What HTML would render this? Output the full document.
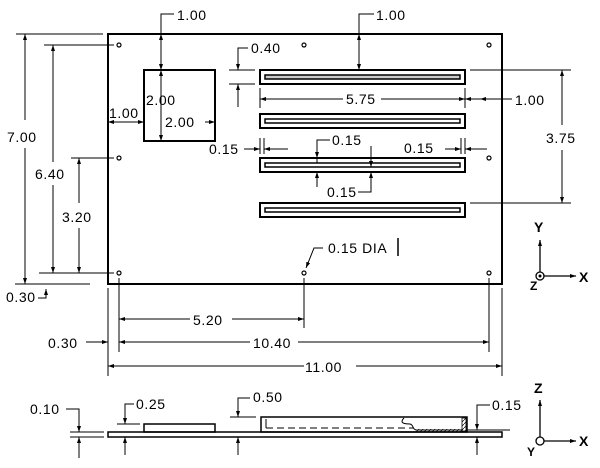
<!DOCTYPE html>
<html><head><style>
html,body{margin:0;padding:0;background:#fff}
svg{display:block}
text{font-family:"Liberation Sans",Arial,sans-serif;font-size:14px;letter-spacing:0.6px;fill:#000}
</style></head><body>
<svg width="600" height="468" viewBox="0 0 600 468" xmlns="http://www.w3.org/2000/svg">
<defs>
<marker id="a" markerWidth="6" markerHeight="4" refX="6" refY="2" orient="auto-start-reverse" markerUnits="userSpaceOnUse"><path d="M0,0 L6,2 L0,4z" fill="#000"/></marker>
<pattern id="h" width="4" height="4" patternUnits="userSpaceOnUse"><path d="M0,4 L4,0" stroke="#000" stroke-width="0.7"/></pattern>
</defs>
<g fill="none" stroke="#000" stroke-width="1">
<rect x="108" y="34" width="394" height="250" stroke-width="2"/>
<g stroke-width="1.2">
<circle cx="119" cy="45" r="2"/><circle cx="119" cy="158" r="2"/><circle cx="119" cy="273" r="2"/>
<circle cx="304" cy="45" r="2"/><circle cx="304" cy="273" r="2"/>
<circle cx="489" cy="45" r="2"/><circle cx="489" cy="158" r="2"/><circle cx="489" cy="273" r="2"/>
</g>
<rect x="144" y="70" width="71" height="71" stroke-width="2"/>
<g stroke-width="2">
<rect x="260" y="70" width="205" height="14"/><rect x="265" y="75" width="195" height="4" fill="#ccc" stroke-width="1.5"/>
<rect x="260" y="114" width="205" height="14"/><rect x="265" y="119" width="195" height="4" stroke-width="1.5"/>
<rect x="260" y="158" width="205" height="14"/><rect x="265" y="163" width="195" height="4" stroke-width="1.5"/>
<rect x="260" y="203" width="205" height="14"/><rect x="265" y="208" width="195" height="4" stroke-width="1.5"/>
</g>
<line x1="16" y1="34" x2="103" y2="34"/><line x1="15" y1="284" x2="90" y2="284"/>
<line x1="25" y1="34" x2="25" y2="120" marker-start="url(#a)"/><line x1="25" y1="148" x2="25" y2="284" marker-end="url(#a)"/>
<line x1="44" y1="45" x2="114" y2="45"/><line x1="39" y1="273" x2="114" y2="273"/>
<line x1="53" y1="45" x2="53" y2="162" marker-start="url(#a)"/><line x1="53" y1="185" x2="53" y2="273" marker-end="url(#a)"/>
<line x1="71" y1="158" x2="114" y2="158"/>
<line x1="79" y1="158" x2="79" y2="203" marker-start="url(#a)"/><line x1="79" y1="228" x2="79" y2="273" marker-end="url(#a)"/>
<line x1="46" y1="295" x2="46" y2="289" marker-end="url(#a)"/><polyline points="38,298 46,298 46,295"/>
<polyline points="174,14 161,14 161,70"/><line x1="161" y1="40" x2="161" y2="70" marker-end="url(#a)"/>
<line x1="161" y1="40" x2="161" y2="34" marker-end="url(#a)"/>
<line x1="161" y1="110" x2="161" y2="70" marker-end="url(#a)"/><line x1="161" y1="110" x2="161" y2="141" marker-end="url(#a)"/>
<line x1="108" y1="122" x2="144" y2="122"/>
<line x1="125" y1="122" x2="108" y2="122" marker-end="url(#a)"/><line x1="130" y1="122" x2="144" y2="122" marker-end="url(#a)"/>
<line x1="205" y1="122" x2="215" y2="122" marker-end="url(#a)"/>
<polyline points="248,48 238,48 238,70"/><line x1="238" y1="60" x2="238" y2="70" marker-end="url(#a)"/>
<line x1="229" y1="70" x2="255" y2="70"/><line x1="229" y1="84" x2="255" y2="84"/>
<line x1="238" y1="107" x2="238" y2="84" marker-end="url(#a)"/>
<polyline points="374,14 359,14 359,70"/><line x1="359" y1="40" x2="359" y2="34" marker-end="url(#a)"/><line x1="359" y1="40" x2="359" y2="70" marker-end="url(#a)"/>
<line x1="260" y1="88" x2="260" y2="108"/><line x1="465" y1="88" x2="465" y2="108"/>
<line x1="290" y1="99" x2="260" y2="99" marker-end="url(#a)"/><line x1="290" y1="99" x2="343" y2="99"/>
<line x1="381" y1="99" x2="465" y2="99" marker-end="url(#a)"/>
<line x1="490" y1="99" x2="465" y2="99" marker-end="url(#a)"/><line x1="480" y1="99" x2="502" y2="99" marker-start="url(#a)"/>
<line x1="480" y1="99" x2="512" y2="99"/>
<line x1="470" y1="70" x2="571" y2="70"/><line x1="470" y1="203" x2="571" y2="203"/>
<line x1="562" y1="125" x2="562" y2="70" marker-end="url(#a)"/><line x1="562" y1="150" x2="562" y2="203" marker-end="url(#a)"/>
<line x1="260" y1="138" x2="260" y2="154"/><line x1="264" y1="138" x2="264" y2="154"/>
<line x1="244" y1="149" x2="260" y2="149" marker-end="url(#a)"/><line x1="288" y1="149" x2="264" y2="149" marker-end="url(#a)"/>
<line x1="461" y1="138" x2="461" y2="154"/><line x1="465" y1="138" x2="465" y2="154"/>
<line x1="445" y1="149" x2="461" y2="149" marker-end="url(#a)"/><line x1="487" y1="149" x2="465" y2="149" marker-end="url(#a)"/>
<polyline points="330,140 317,140 317,163"/><line x1="317" y1="150" x2="317" y2="158" marker-end="url(#a)"/>
<line x1="317" y1="187" x2="317" y2="172" marker-end="url(#a)"/>
<line x1="371" y1="146" x2="371" y2="167" marker-end="url(#a)"/>
<polyline points="358,192 371,192 371,173"/><line x1="371" y1="185" x2="371" y2="172" marker-end="url(#a)"/>
<polyline points="323,248 314,248 306,268" marker-end="url(#a)"/>
<line x1="398" y1="238" x2="398" y2="256" stroke-width="1.5"/>
<line x1="108" y1="288" x2="108" y2="376"/><line x1="502" y1="288" x2="502" y2="376"/>
<line x1="119" y1="278" x2="119" y2="352"/><line x1="304" y1="278" x2="304" y2="328"/><line x1="489" y1="278" x2="489" y2="352"/>
<line x1="150" y1="319" x2="119" y2="319" marker-end="url(#a)"/><line x1="150" y1="319" x2="190" y2="319"/>
<line x1="232" y1="319" x2="304" y2="319" marker-end="url(#a)"/>
<line x1="150" y1="342" x2="119" y2="342" marker-end="url(#a)"/><line x1="150" y1="342" x2="250" y2="342"/>
<line x1="298" y1="342" x2="489" y2="342" marker-end="url(#a)"/>
<line x1="86" y1="342" x2="108" y2="342" marker-end="url(#a)"/>
<line x1="150" y1="366" x2="108" y2="366" marker-end="url(#a)"/><line x1="150" y1="366" x2="304" y2="366"/>
<line x1="356" y1="366" x2="502" y2="366" marker-end="url(#a)"/>
<line x1="540" y1="276" x2="540" y2="240" marker-end="url(#a)" stroke-width="1.3"/>
<line x1="540" y1="276" x2="576" y2="276" marker-end="url(#a)" stroke-width="1.3"/>
<circle cx="540" cy="276" r="4" fill="#fff" stroke-width="1.3"/><circle cx="540" cy="276" r="1" fill="#000"/>
<rect x="108" y="432" width="394" height="5" stroke-width="1.5"/>
<rect x="144" y="424" width="71" height="8" stroke-width="1.5"/>
<rect x="261" y="417" width="206" height="15" stroke-width="1.5"/>
<rect x="415" y="429" width="48" height="3" fill="url(#h)" stroke="none"/>
<rect x="462" y="418" width="4" height="13" fill="url(#h)" stroke-width="0.8"/>
<line x1="266" y1="419" x2="266" y2="428"/>
<line x1="266" y1="428" x2="414" y2="428" stroke-dasharray="7,4"/>
<path d="M404,418 C400,422 402,424 410,424 C414,425 412,429 416,430 L462,430"/>
<line x1="70" y1="432" x2="104" y2="432"/><line x1="70" y1="437" x2="104" y2="437"/>
<polyline points="66,409 79,409 79,432"/><line x1="79" y1="424" x2="79" y2="432" marker-end="url(#a)"/>
<line x1="79" y1="458" x2="79" y2="437" marker-end="url(#a)"/>
<line x1="117" y1="424" x2="140" y2="424"/>
<polyline points="134,404 125,404 125,424"/><line x1="125" y1="416" x2="125" y2="424" marker-end="url(#a)"/>
<line x1="125" y1="455" x2="125" y2="437" marker-end="url(#a)"/>
<line x1="230" y1="417" x2="256" y2="417"/>
<polyline points="250,398 238,398 238,417"/><line x1="238" y1="408" x2="238" y2="417" marker-end="url(#a)"/>
<line x1="238" y1="455" x2="238" y2="437" marker-end="url(#a)"/>
<line x1="466" y1="430" x2="510" y2="430"/>
<polyline points="490,405 477,405 477,430"/><line x1="477" y1="420" x2="477" y2="430" marker-end="url(#a)"/>
<line x1="477" y1="455" x2="477" y2="437" marker-end="url(#a)"/>
<line x1="540" y1="441" x2="540" y2="400" marker-end="url(#a)" stroke-width="1.3"/>
<line x1="540" y1="441" x2="576" y2="441" marker-end="url(#a)" stroke-width="1.3"/>
<circle cx="540" cy="441" r="4" fill="#fff" stroke-width="1.3"/>
</g>
<text x="177" y="20">1.00</text>
<text x="376" y="20">1.00</text>
<text x="251" y="53">0.40</text>
<text x="146" y="105">2.00</text>
<text x="109" y="118">1.00</text>
<text x="165" y="127">2.00</text>
<text x="346" y="104">5.75</text>
<text x="515" y="105">1.00</text>
<text x="546" y="143">3.75</text>
<text x="209" y="154">0.15</text>
<text x="404" y="153">0.15</text>
<text x="332" y="145">0.15</text>
<text x="327" y="197">0.15</text>
<text x="7" y="142">7.00</text>
<text x="35" y="179">6.40</text>
<text x="62" y="222">3.20</text>
<text x="6" y="302">0.30</text>
<text x="328" y="253">0.15 DIA</text>
<text x="193" y="325">5.20</text>
<text x="253" y="348">10.40</text>
<text x="48" y="348">0.30</text>
<text x="305" y="372">11.00</text>
<text x="30" y="414">0.10</text>
<text x="136" y="409">0.25</text>
<text x="253" y="402">0.50</text>
<text x="492" y="410">0.15</text>
<g style="font-weight:bold">
<text x="534" y="232">Y</text><text x="579" y="282">X</text><text x="530" y="290" style="font-size:12px">Z</text>
<text x="534" y="393">Z</text><text x="579" y="446">X</text><text x="527" y="456" style="font-size:12px">Y</text>
</g>
</svg>
</body></html>
